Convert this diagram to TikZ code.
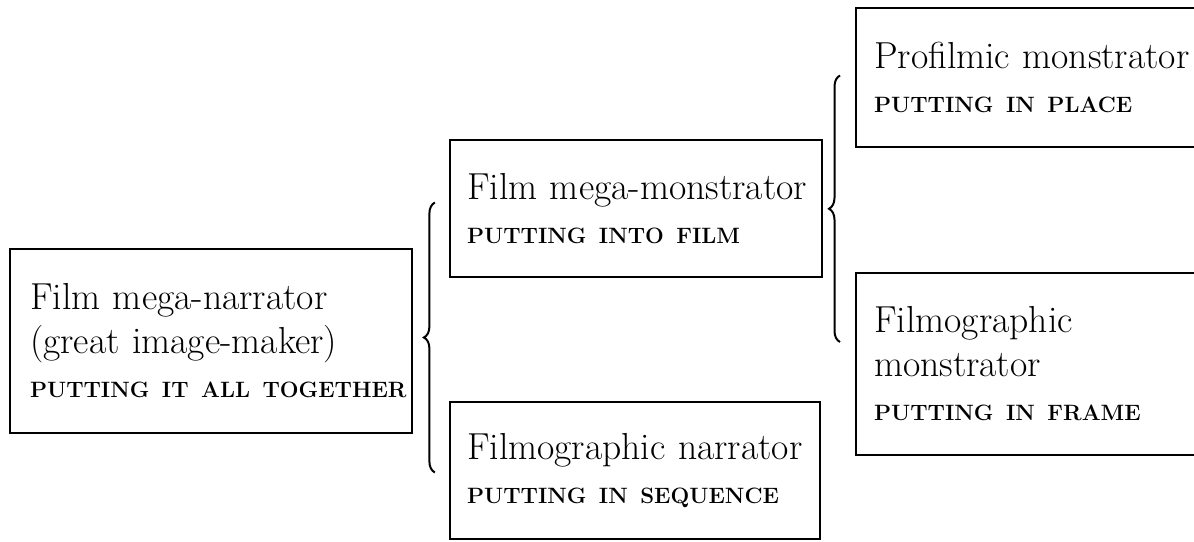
\documentclass[tikz,border=0pt]{standalone}
\usetikzlibrary{decorations.pathreplacing}
\newcommand{\boxcaps}[1]{\mbox{\fontsize{11.1}{14}\selectfont\bfseries #1}}
\begin{document}
\begin{tikzpicture}[x=0.5pt,y=-0.5pt,
    box/.style={draw,line width=1.1pt,align=left,inner xsep=8.5pt,inner ysep=0pt,
      font=\fontsize{18.8}{22}\selectfont},
    bracket/.style={decorate,decoration={brace,amplitude=5.5pt},line width=1pt}]
    \useasboundingbox (0,0) rectangle (1194,541);
    \clip (0,0) rectangle (1194,541);
    \node[box,inner xsep=10pt,text width=181pt,minimum height=92pt] (narrator) at (211,341)
      {\mbox{Film mega-narrator}\\\mbox{(great image-maker)}\\\boxcaps{PUTTING IT ALL TOGETHER}};
    \node[box,text width=169pt,minimum height=68.5pt] (monstrator) at (636,208.5)
      {\mbox{Film mega-monstrator}\\\boxcaps{PUTTING INTO FILM}};
    \node[box,text width=168pt,minimum height=68.5pt] (sequence) at (635,470.5)
      {\mbox{Filmographic narrator}\\\boxcaps{PUTTING IN SEQUENCE}};
    \node[box,anchor=west,inner xsep=9pt,text width=220pt,minimum height=69.5pt] (profilmic) at (855,77.5)
      {\mbox{Profilmic monstrator}\\\boxcaps{PUTTING IN PLACE}};
    \node[box,anchor=west,inner xsep=9pt,text width=220pt,minimum height=91pt] (frame) at (855,364)
      {Filmographic\\monstrator\\\boxcaps{PUTTING IN FRAME}};
    \draw[bracket] ([xshift=-7pt,yshift=-1pt]sequence.west) -- ([xshift=-7pt,yshift=3pt]monstrator.west);
    \draw[bracket] ([xshift=-7.5pt,yshift=11pt]frame.west) -- ([xshift=-7.5pt,yshift=1pt]profilmic.west);
\end{tikzpicture}
\end{document}
